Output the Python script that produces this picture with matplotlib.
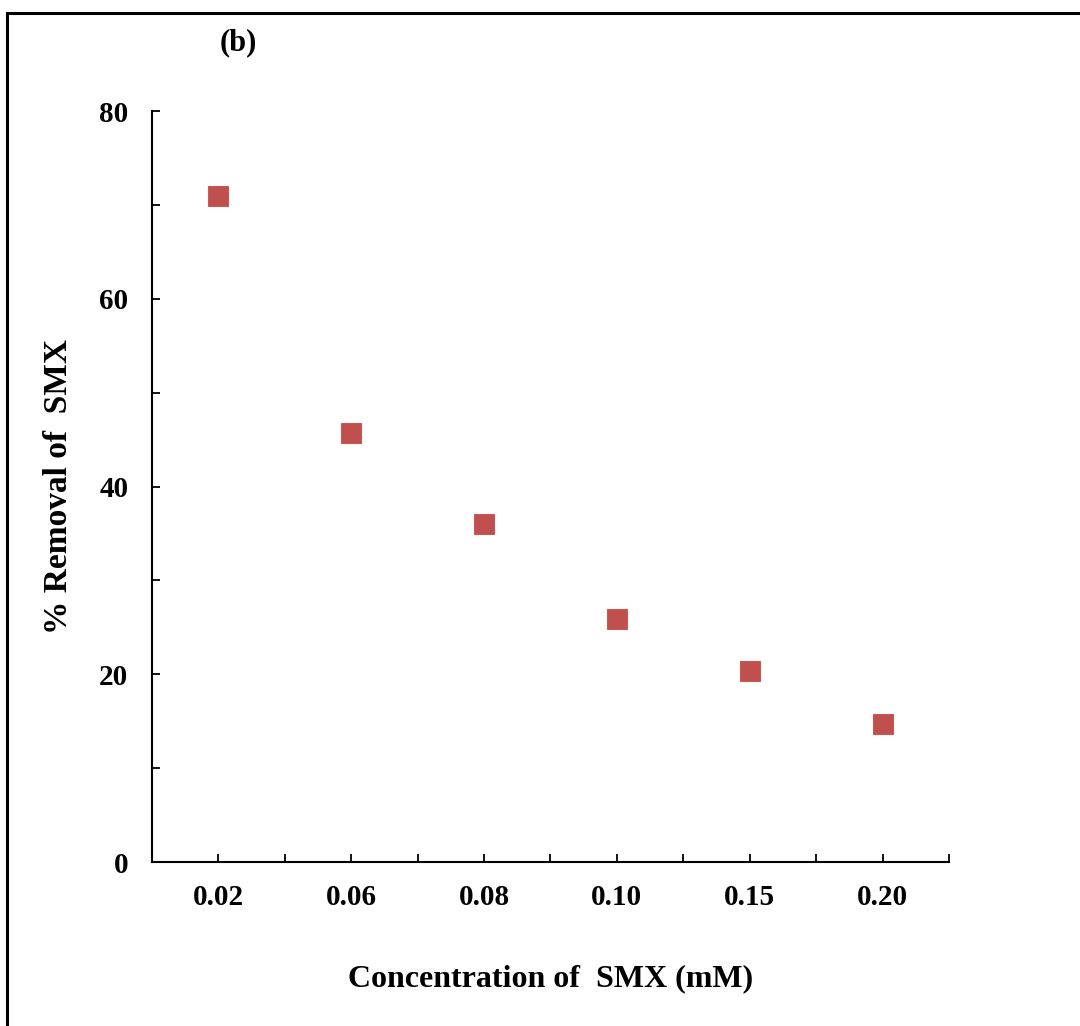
import matplotlib

matplotlib.use("Agg")
import matplotlib.pyplot as plt
from matplotlib.patches import Rectangle
from matplotlib.ticker import MultipleLocator

# SMX removal at each initial concentration
concentrations = ["0.02", "0.06", "0.08", "0.10", "0.15", "0.20"]
removal_pct = [70.9, 45.7, 36.0, 25.9, 20.3, 14.7]

plt.rcParams["font.family"] = ["Liberation Serif", "DejaVu Serif"]
plt.rcParams["font.weight"] = "bold"

fig = plt.figure(figsize=(10.8, 10.26), dpi=100)
ax = fig.add_axes([0.1407, 0.1598, 0.738, 0.732])

x = list(range(len(concentrations)))
ax.plot(x, removal_pct, linestyle="none", marker="s", markersize=14.4,
        color="#C0504D", markeredgecolor="#C75A57", markeredgewidth=0.8)

ax.set_xlim(-0.5, len(concentrations) - 0.5)
ax.set_ylim(0, 80)
ax.set_xticks(x)
ax.set_xticklabels(concentrations)
ax.xaxis.set_minor_locator(MultipleLocator(0.5))
ax.yaxis.set_major_locator(MultipleLocator(20))
ax.yaxis.set_minor_locator(MultipleLocator(10))

for side in ("top", "right"):
    ax.spines[side].set_visible(False)
for side in ("left", "bottom"):
    ax.spines[side].set_linewidth(1.5)

ax.tick_params(which="both", direction="in", length=6, width=1.3)
ax.tick_params(axis="x", which="major", pad=16, labelsize=21)
ax.tick_params(axis="y", which="major", pad=17, labelsize=21)

ax.set_xlabel("Concentration of  SMX (mM)", fontsize=23, fontweight="bold",
              labelpad=38)
ax.set_ylabel("% Removal of  SMX", fontsize=24, fontweight="bold",
              labelpad=18)

fig.text(0.2204, 0.958, "(b)", fontsize=22, fontweight="bold",
         ha="center", va="center")

# frame around the panel, running off the right and bottom edges
fig.patches.append(Rectangle((0.0065, -0.05), 1.1, 1.037, transform=fig.transFigure,
                             fill=False, edgecolor="black", linewidth=2.2))

fig.savefig("out.png", dpi=100)
